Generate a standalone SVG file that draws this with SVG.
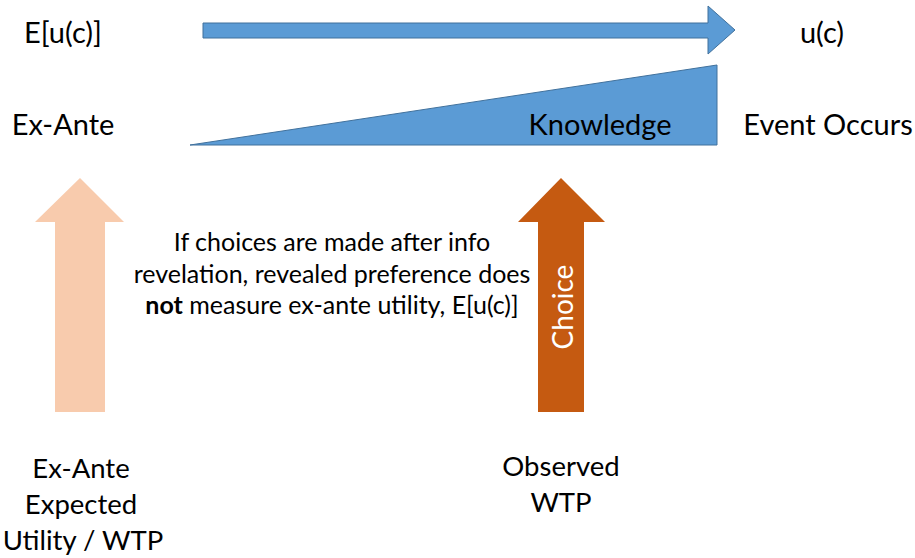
<svg xmlns="http://www.w3.org/2000/svg" width="915" height="558" viewBox="0 0 915 558">
<style>
text{font-family:Lato,"Open Sans","Liberation Sans",sans-serif;fill:#000}
.lbl{font-size:29px}
.mid{font-size:25px;text-anchor:middle}
.bot{font-size:27.5px;text-anchor:middle}
.blue{fill:#5B9BD5;stroke:#41719C;stroke-width:1}
</style>
<rect width="915" height="558" fill="#fff"/>
<g id="timeline">
<path class="blue" d="M203,23 H708 V6 L735,30 L708,54 V38 H203 Z"/>
</g>
<g id="knowledge">
<path class="blue" d="M190,145 L717,65 V145 Z"/>
<text class="lbl" x="600" y="135" text-anchor="middle">Knowledge</text>
</g>
<g id="labels">
<text class="lbl" x="63" y="43" text-anchor="middle">E[u(c)]</text>
<text class="lbl" x="822" y="43" text-anchor="middle">u(c)</text>
<text class="lbl" x="63" y="135" text-anchor="middle">Ex-Ante</text>
<text class="lbl" x="828" y="135" text-anchor="middle">Event Occurs</text>
</g>
<g id="exante-arrow">
<path d="M55,412 V222 H35 L80,178 L124,222 H105 V412 Z" fill="#F8CBAD"/>
</g>
<g id="choice-arrow">
<path d="M538,412 V222 H518 L561,178 L605,222 H584 V412 Z" fill="#C55A11"/>
<text x="562" y="307" font-size="28" text-anchor="middle" dominant-baseline="central" transform="rotate(-90 562 307)" style="fill:#fff">Choice</text>
</g>
<g id="note">
<text class="mid" x="332" y="251">If choices are made after info</text>
<text class="mid" x="332" y="283">revelation, revealed preference does</text>
<text class="mid" x="332" y="314"><tspan font-weight="bold">not</tspan> measure ex-ante utility, E[u(c)]</text>
</g>
<g id="exante-label">
<text class="bot" x="81" y="478">Ex-Ante</text>
<text class="bot" x="81" y="514">Expected</text>
<text class="bot" x="83" y="550">Utility / WTP</text>
</g>
<g id="observed-label">
<text class="bot" x="561" y="476">Observed</text>
<text class="bot" x="561" y="512">WTP</text>
</g>
</svg>
